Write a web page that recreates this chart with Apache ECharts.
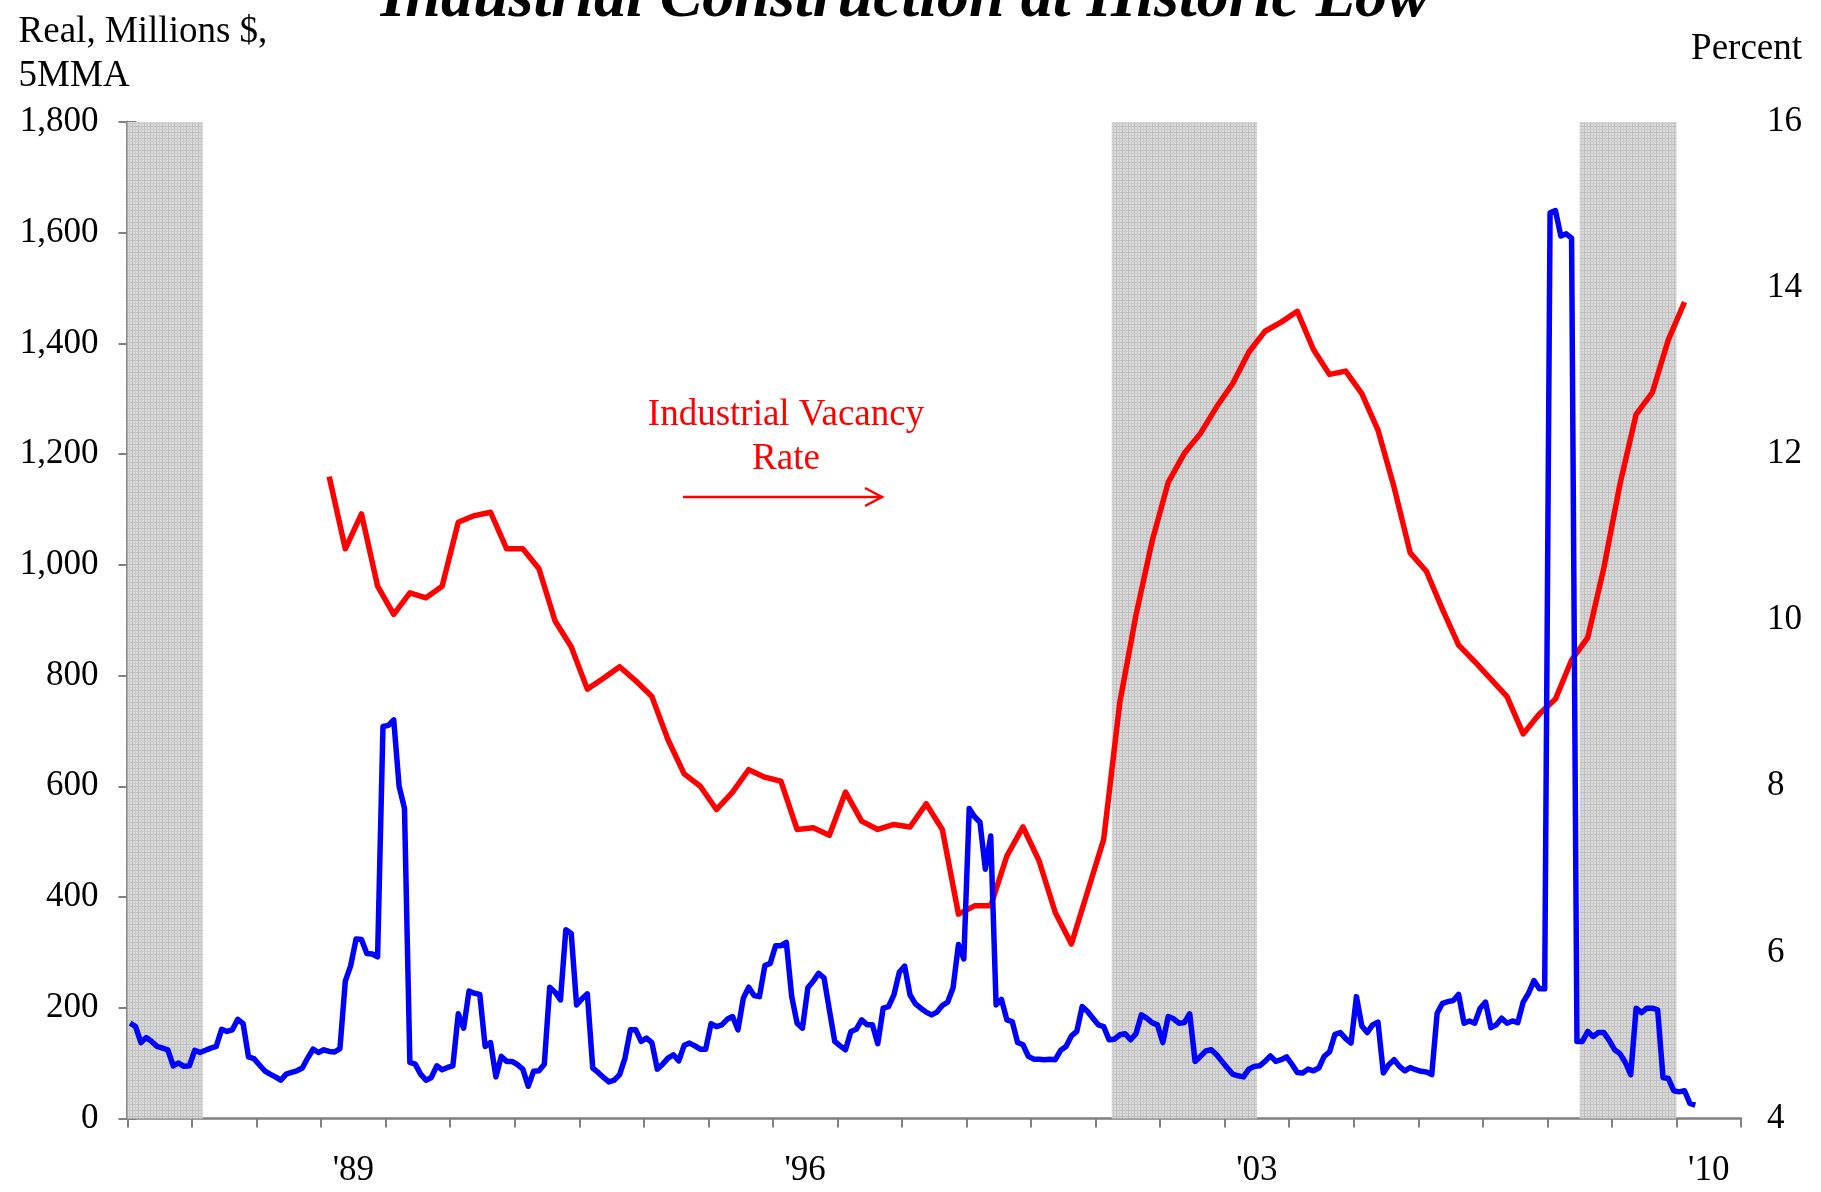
<!DOCTYPE html>
<html><head><meta charset="utf-8">
<script src="https://cdn.jsdelivr.net/npm/echarts@6/dist/echarts.min.js"></script>
<style>html,body{margin:0;padding:0;background:#fff}#c{width:1821px;height:1192px}</style>
</head><body><div id="c"></div>
<script>
// Months counted from the left edge of the x axis (one tick = 12 months)
const blueStartMonth = 0;
const blueValues = [
172,166,137,146,139,130,127,124,95,100,94,95,123,119,123,127,130,161,157,160,179,171,111,108,97,86,80,75,69,80,83,86,91,109,125,119,124,121,120,126,248,276,324,323,298,297,292,
708,710,720,600,560,101,
98,80,69,74,95,88,92,95,189,163,230,226,224,130,137,75,112,103,103,97,89,58,85,86,98,237,228,214,341,334,205,216,225,91,83,74,66,69,79,109,160,160,139,145,137,89,98,109,115,104,132,136,131,125,125,
171,166,169,179,184,160,217,237,222,220,276,280,312,312,318,220,172,163,236,248,262,254,196,139,131,124,157,161,178,169,169,135,199,202,223,264,275,223,207,199,192,187,192,204,210,236,314,288,
560,545,535,450,510,
205,215,178,175,137,133,112,107,107,106,107,106,123,130,149,157,202,193,181,169,166,142,143,151,153,142,153,187,181,173,169,137,184,180,172,173,189,103,112,122,124,115,103,91,80,77,75,89,94,95,103,113,103,106,111,
98,83,82,89,86,91,112,120,152,155,144,136,220,167,155,169,174,82,97,106,94,86,92,88,85,84,79,190,208,211,213,224,172,176,172,199,210,164,169,181,172,176,173,210,226,249,234,234,
1636,1640,1594,1598,1590,
139,139,157,148,155,155,141,124,117,101,79,199,191,199,199,196,74,72,50,48,50,27,24
];
const redStartMonth = 37;
const redStepMonths = 3;
const redValues = [
11.73,10.86,11.28,10.41,10.07,10.33,10.27,10.41,11.18,11.26,11.30,10.86,10.86,10.62,9.99,9.68,9.17,9.30,9.44,9.27,9.08,8.56,8.15,8.0,7.72,7.93,8.2,8.11,8.06,7.48,7.50,7.41,7.93,7.58,7.48,7.54,7.51,7.79,7.48,6.46,6.56,6.56,7.16,7.51,7.10,6.48,6.10,6.73,7.36,9.01,10.06,10.95,11.66,12.01,12.25,12.57,12.85,13.23,13.48,13.59,13.72,13.26,12.96,13.0,12.73,12.29,11.60,10.81,10.59,10.13,9.70,9.50,9.29,9.08,8.63,8.87,9.05,9.52,9.79,10.63,11.64,12.48,12.74,13.38,13.83
];
const recessionStarts = [0, 183, 270];
const recessionEnds = [14, 210, 288];
const xLabelMonths = [42, 126, 210, 294];
const xLabelTexts = ["'89", "'96", "'03", "'10"];

const FONT = "'Liberation Serif','Times New Roman',serif";
const GRAY = '#808080';

const blueData = blueValues.map((v, i) => [blueStartMonth + i + 0.5, v]);
const redData = redValues.map((v, k) => [redStartMonth + k * redStepMonths + 0.5, v]);
const areas = recessionStarts.map((s, i) => [{ xAxis: s }, { xAxis: recessionEnds[i] }]);

// fine grid texture for the shaded periods
const pat = document.createElement('canvas');
pat.width = 6; pat.height = 6;
(function () {
  const g = pat.getContext('2d');
  g.fillStyle = '#dadada'; g.fillRect(0, 0, 6, 6);
  g.fillStyle = '#bdbdbd';
  g.fillRect(0, 0, 6, 1);
  g.fillRect(0, 0, 1, 6);
  g.fillStyle = '#cacaca';
  g.fillRect(3, 0, 1, 6);
  g.fillRect(0, 3, 6, 1);
})();

const chart = echarts.init(document.getElementById('c'), null, { renderer: 'canvas' });
chart.setOption({
  animation: false,
  backgroundColor: '#fff',
  grid: { left: 127.5, right: 80, top: 122, bottom: 73.6, containLabel: false, outerBoundsMode: 'none' },
  xAxis: [
    { type: 'value', min: 0, max: 300, interval: 12,
      axisLine: { show: true, onZero: false, lineStyle: { color: GRAY, width: 2.5 } },
      axisTick: { show: true, length: 9, lineStyle: { color: GRAY, width: 2 } },
      axisLabel: { show: false }, splitLine: { show: false } },
    { type: 'value', min: 0, max: 300, interval: 42, position: 'bottom',
      axisLine: { show: false }, axisTick: { show: false }, splitLine: { show: false },
      axisLabel: { show: true, margin: 35, fontSize: 35, fontFamily: FONT, color: '#000',
        showMinLabel: true, showMaxLabel: true,
        formatter: v => { const k = xLabelMonths.indexOf(Math.round(v)); return k >= 0 ? xLabelTexts[k] : ''; } } }
  ],
  yAxis: [
    { type: 'value', min: 0, max: 1800, interval: 200, position: 'left',
      axisLine: { show: true, lineStyle: { color: GRAY, width: 2.5 } },
      axisTick: { show: true, length: 9, lineStyle: { color: GRAY, width: 2 } },
      splitLine: { show: false },
      axisLabel: { margin: 29, fontSize: 35, fontFamily: FONT, color: '#000', padding: [5, 0, 0, 0],
        formatter: v => v.toString().replace(/\B(?=(\d{3})+(?!\d))/g, ',') } },
    { type: 'value', min: 4, max: 16, interval: 2, position: 'right',
      axisLine: { show: true, lineStyle: { color: GRAY, width: 2.5 } },
      axisTick: { show: true, length: 9, lineStyle: { color: GRAY, width: 2 } },
      splitLine: { show: false },
      axisLabel: { margin: 26, fontSize: 35, fontFamily: FONT, color: '#000', padding: [5, 0, 0, 0] } }
  ],
  series: [
    { type: 'line', name: 'shade', data: [], xAxisIndex: 0, yAxisIndex: 0, z: 1,
      markArea: { silent: true, itemStyle: { color: { image: pat, repeat: 'repeat' } }, data: areas } },
    { type: 'line', name: 'Industrial Vacancy Rate', data: redData, xAxisIndex: 0, yAxisIndex: 1,
      showSymbol: false, symbol: 'none', z: 3,
      lineStyle: { color: '#ff0000', width: 5.5, join: 'round' } },
    { type: 'line', name: 'Industrial Construction', data: blueData, xAxisIndex: 0, yAxisIndex: 0,
      showSymbol: false, symbol: 'none', z: 4,
      lineStyle: { color: '#0000ff', width: 5.5, join: 'round' } }
  ],
  graphic: [
    { type: 'text', x: 905, y: -1, silent: true,
      style: { text: 'Industrial Construction at Historic Low', font: "italic bold 64px " + FONT,
        fill: '#000', textAlign: 'center', textVerticalAlign: 'middle' } },
    { type: 'text', x: 18.6, y: 32.5, silent: true,
      style: { text: 'Real, Millions $,', font: "37px " + FONT, fill: '#000', textAlign: 'left', textVerticalAlign: 'middle' } },
    { type: 'text', x: 18.6, y: 76.5, silent: true,
      style: { text: '5MMA', font: "37px " + FONT, fill: '#000', textAlign: 'left', textVerticalAlign: 'middle' } },
    { type: 'text', x: 1802, y: 49.5, silent: true,
      style: { text: 'Percent', font: "37px " + FONT, fill: '#000', textAlign: 'right', textVerticalAlign: 'middle' } },
    { type: 'text', x: 786, y: 415.5, silent: true,
      style: { text: 'Industrial Vacancy', font: "37px " + FONT, fill: '#ff0000', textAlign: 'center', textVerticalAlign: 'middle' } },
    { type: 'text', x: 786, y: 459, silent: true,
      style: { text: 'Rate', font: "37px " + FONT, fill: '#ff0000', textAlign: 'center', textVerticalAlign: 'middle' } },
    { type: 'polyline', silent: true, shape: { points: [[683, 497], [882, 497]] },
      style: { stroke: '#ff0000', lineWidth: 2.5, fill: null } },
    { type: 'polyline', silent: true, shape: { points: [[865, 488], [882, 497], [865, 506]] },
      style: { stroke: '#ff0000', lineWidth: 2.5, fill: null } }
  ]
});
</script>
</body></html>
